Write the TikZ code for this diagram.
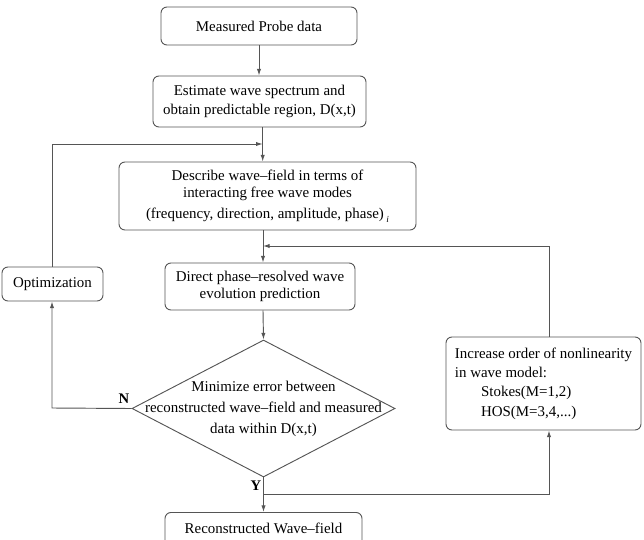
\documentclass[tikz,border=0pt]{standalone}
\usepackage{fontspec}
\setmainfont{Liberation Serif}
\usetikzlibrary{arrows.meta,shapes.geometric,calc}
\definecolor{linegray}{HTML}{555555}
\begin{document}
\begin{tikzpicture}[x=0.75pt,y=-0.75pt,
  every node/.style={font=\fontsize{11.2}{13}\selectfont, text=black},
  stepbox/.style={draw=linegray, line width=0.7pt, rounded corners=4.5pt,
    align=center, inner sep=0pt},
  link/.style={draw=linegray, line width=0.7pt},
  arr/.style={link, -{Latex[length=5pt,width=3.2pt]}},
  lbl/.style={font=\fontsize{11}{13}\selectfont\bfseries}]
\clip (0,0) rectangle (644,540);

% process boxes
\node[stepbox, minimum width=196*0.75pt, minimum height=38*0.75pt] (probe) at (259,26) {Measured Probe data};
\node[stepbox, minimum width=213*0.75pt, minimum height=51*0.75pt, font=\fontsize{11.2}{14.5}\selectfont] (spec) at (259.5,101.5)
  {Estimate wave spectrum and\\obtain predictable region, D(x,t)};
\node[stepbox, minimum width=297*0.75pt, minimum height=68*0.75pt, font=\fontsize{11.2}{13}\selectfont] (modes) at (267.5,196)
  {Describe wave–field in terms of\\interacting free wave modes\\[2.5pt]
   (frequency, direction, amplitude, phase)\,\raisebox{-3pt}{\scriptsize\itshape i}};
\node[stepbox, minimum width=190*0.75pt, minimum height=47*0.75pt] (pred) at (260,286.5)
  {Direct phase–resolved wave\\evolution prediction};
\node[stepbox, minimum width=101*0.75pt, minimum height=34*0.75pt] (opt) at (52.5,284) {Optimization};
\node[stepbox, minimum width=197*0.75pt, minimum height=40*0.75pt, anchor=north] (recon) at (263.5,512)
  {\raisebox{0pt}[0pt][0pt]{}\\[-12pt]Reconstructed Wave–field};
\node[stepbox, minimum width=195*0.75pt, minimum height=93*0.75pt, align=left,
  font=\fontsize{11.2}{14.5}\selectfont] (order) at (543.5,383.5)
  {Increase order of nonlinearity\\in wave model:\\
   \hspace*{1.75em}Stokes(M=1,2)\\\hspace*{1.75em}HOS(M=3,4,...)};

% decision
\node[draw=linegray, line width=0.7pt, diamond, inner sep=0pt,
  minimum width=263*0.75pt, minimum height=137*0.75pt] (dec) at (263.5,408.5) {};
\node[align=center, font=\fontsize{11.2}{16}\selectfont] (dectext) at (263.5,409)
  {Minimize error between\\reconstructed wave–field and measured\\data within D(x,t)};

% junction points of the loops
\coordinate (jopt) at (262.7,144);
\coordinate (jord) at (263,246);
\coordinate (jy) at (263,494);

% main flow
\draw[arr] (probe.south -| 259,0) -- (spec.north -| 259,0);
\draw[arr] (spec.south -| jopt) -- (modes.north -| jopt);
\draw[arr] (modes.south -| jord) -- (pred.north -| jord);
\draw[arr] (pred.south -| jord) -- (dec.north);
\draw[arr] (dec.south) -- (recon.north -| dec.south);

% N branch: back through the optimization step
\draw[arr] (dec.west) -- (52,408) -- (opt.south -| 52,0);
\draw[arr] (opt.north -| 52,0) -- (52,144) -- (jopt);

% Y branch: raise the model order and predict again
\draw[arr] (jy) -- (549,494) -- (order.south -| 549,0);
\draw[arr] (order.north -| 549,0) -- (549,246) -- (jord);

% branch labels
\node[lbl] (nlab) at (124,399) {N};
\node[lbl] (ylab) at (256,486) {Y};
\end{tikzpicture}
\end{document}
